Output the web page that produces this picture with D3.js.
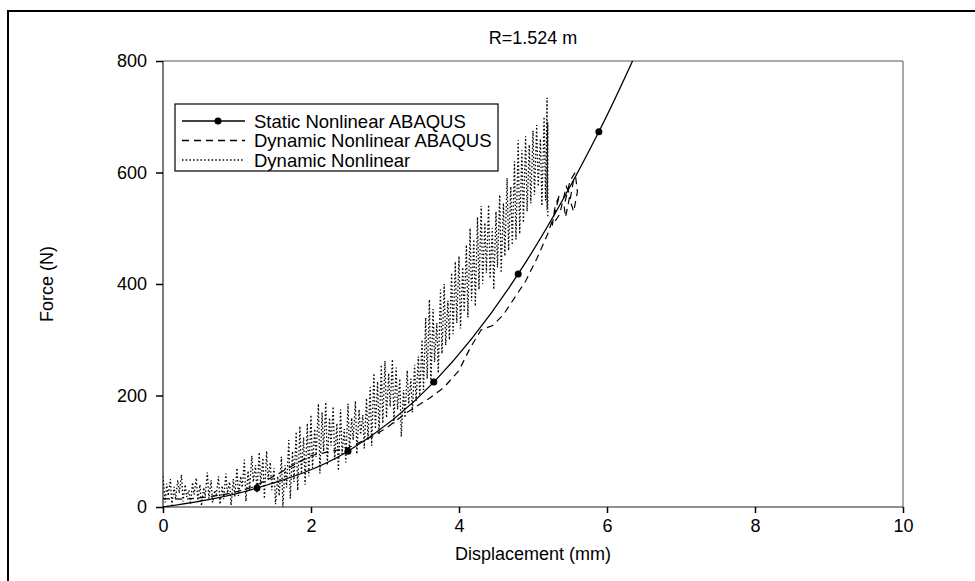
<!DOCTYPE html>
<html>
<head>
<meta charset="utf-8">
<script src="https://cdn.jsdelivr.net/npm/d3@7"></script>
<style>
  body { margin: 0; background: #fff; }
  text { font-family: "Liberation Sans", Arial, sans-serif; fill: #000; }
</style>
</head>
<body>
<div id="chart"></div>
<script>
// Static Nonlinear ABAQUS (markers at each point)
const staticDisp  = [0, 1.27, 2.50, 3.66, 4.80, 5.89, 6.95];
const staticForce = [0, 34, 100, 224, 418, 673, 980];

// Dynamic Nonlinear ABAQUS
const abaqusDisp  = [0, 0.3, 0.6, 0.9, 1.2, 1.5, 1.8, 2.0, 2.2, 2.5, 2.8, 3.0, 3.3, 3.6, 3.8, 4.0, 4.15, 4.3, 4.45, 4.6, 4.75, 4.9, 5.05, 5.2, 5.3, 5.36, 5.3, 5.26, 5.36, 5.45, 5.5, 5.44, 5.42, 5.5, 5.57, 5.6, 5.55, 5.5, 5.56];
const abaqusForce = [15, 14, 18, 24, 35, 55, 78, 92, 98, 106, 125, 140, 170, 195, 215, 245, 285, 318, 325, 345, 375, 405, 445, 490, 530, 560, 540, 505, 525, 575, 560, 520, 540, 585, 600, 565, 530, 550, 595];

// Dynamic Nonlinear
const dynDisp = [
  0.00, 0.03, 0.05, 0.07, 0.10, 0.12, 0.15, 0.17, 0.20, 0.22, 0.25, 0.27, 0.30, 0.32, 0.35, 0.37, 0.40, 0.42, 0.45, 0.47,
  0.50, 0.52, 0.55, 0.57, 0.60, 0.62, 0.65, 0.67, 0.70, 0.72, 0.75, 0.77, 0.80, 0.82, 0.85, 0.87, 0.90, 0.92, 0.95, 0.97,
  1.00, 1.02, 1.05, 1.07, 1.10, 1.12, 1.15, 1.17, 1.20, 1.22, 1.25, 1.27, 1.30, 1.32, 1.35, 1.37, 1.40, 1.42, 1.45, 1.47,
  1.50, 1.52, 1.55, 1.57, 1.60, 1.62, 1.65, 1.67, 1.70, 1.72, 1.75, 1.77, 1.80, 1.82, 1.85, 1.87, 1.90, 1.92, 1.95, 1.97,
  2.00, 2.02, 2.05, 2.07, 2.10, 2.12, 2.15, 2.17, 2.20, 2.22, 2.25, 2.27, 2.30, 2.32, 2.35, 2.37, 2.40, 2.42, 2.45, 2.47,
  2.50, 2.52, 2.55, 2.57, 2.60, 2.62, 2.65, 2.67, 2.70, 2.72, 2.75, 2.77, 2.80, 2.82, 2.85, 2.87, 2.90, 2.92, 2.95, 2.97,
  3.00, 3.02, 3.05, 3.07, 3.10, 3.12, 3.15, 3.17, 3.20, 3.22, 3.25, 3.27, 3.30, 3.32, 3.35, 3.37, 3.40, 3.42, 3.45, 3.47,
  3.50, 3.52, 3.55, 3.57, 3.60, 3.62, 3.65, 3.67, 3.70, 3.72, 3.75, 3.77, 3.80, 3.82, 3.85, 3.87, 3.90, 3.92, 3.95, 3.97,
  4.00, 4.02, 4.05, 4.07, 4.10, 4.12, 4.15, 4.17, 4.20, 4.22, 4.25, 4.27, 4.30, 4.32, 4.35, 4.37,
  4.40, 4.42, 4.45, 4.47, 4.50, 4.52, 4.55, 4.57, 4.60, 4.62, 4.65, 4.67, 4.70, 4.72, 4.75, 4.77,
  4.80, 4.82, 4.85, 4.87, 4.90, 4.92, 4.95, 4.97, 5.00, 5.02, 5.05, 5.07, 5.10, 5.12, 5.15, 5.17,
  5.19, 5.19, 5.20, 5.20];
const dynForce = [
  55, 8, 42, 20, 50, 3, 36, 15, 48, 25, 58, 10, 40, 18, 30, 5, 44, 22, 52, 12,
  40, 2, 35, 20, 62, 15, 48, 8, 30, 22, 55, 5, 38, 14, 60, 25, 45, 3, 50, 18,
  70, 20, 55, 35, 85, 10, 65, 30, 92, 45, 75, 25, 98, 40, 88, 15, 100, 50, 80, 30,
  70, 5, 55, 20, 90, 0, 75, 35, 120, 15, 100, 45, 135, 30, 145, 60, 125, 40, 150, 55,
  165, 70, 140, 90, 185, 60, 170, 100, 188, 75, 160, 110, 180, 85, 150, 65, 175, 95, 140, 80,
  185, 100, 160, 120, 190, 95, 175, 130, 165, 105, 195, 120, 215, 110, 240, 140, 225, 130, 255, 150,
  262, 160, 240, 180, 265, 150, 250, 175, 230, 126, 210, 160, 245, 185, 230, 170, 255, 190, 270, 200,
  300, 210, 340, 230, 372, 220, 355, 260, 330, 240, 390, 275, 400, 290, 370, 300, 420, 310, 440, 330,
  450, 320, 430, 350, 470, 340, 500, 370, 480, 360, 520, 390, 540, 400, 510, 420,
  542, 410, 500, 390, 530, 430, 560, 420, 545, 450, 590, 460, 575, 470, 620, 480,
  658, 490, 640, 510, 665, 530, 650, 545, 675, 560, 685, 575, 660, 540, 700, 550,
  734, 533, 690, 520];

const xTicks = [0, 2, 4, 6, 8, 10];
const yTicks = [0, 200, 400, 600, 800];

const width = 975, height = 581;
const svg = d3.select("#chart").append("svg")
  .attr("width", width)
  .attr("height", height);

// outer frame (only left and top visible)
svg.append("rect")
  .attr("x", 8).attr("y", 11)
  .attr("width", 1000).attr("height", 600)
  .attr("fill", "none").attr("stroke", "#000").attr("stroke-width", 2);

const x = d3.scaleLinear().domain([0, 10]).range([163, 903]);
const y = d3.scaleLinear().domain([0, 800]).range([507, 61]);

// plot box top/right
svg.append("path")
  .attr("d", `M${x(0)},${y(800)}H${x(10)}V${y(0)}`)
  .attr("fill", "none").attr("stroke", "#555").attr("stroke-width", 1);

svg.append("clipPath").attr("id", "clip")
  .append("rect")
  .attr("x", x(0)).attr("y", y(800))
  .attr("width", x(10) - x(0)).attr("height", y(0) - y(800));

// axes
const xAxis = svg.append("g")
  .attr("transform", `translate(0,${y(0)})`)
  .call(d3.axisBottom(x).tickValues(xTicks).tickSize(6).tickPadding(6).tickFormat(d3.format("d")));
const yAxis = svg.append("g")
  .attr("transform", `translate(${x(0)},0)`)
  .call(d3.axisLeft(y).tickValues(yTicks).tickSize(7).tickPadding(9).tickFormat(d3.format("d")));
[xAxis, yAxis].forEach(a => {
  a.selectAll("text").style("font-size", "18px").style("font-family", "Liberation Sans, Arial, sans-serif");
  a.select(".domain").attr("stroke", "#222").attr("stroke-width", 1.2);
  a.selectAll(".tick line").attr("stroke", "#000").attr("stroke-width", 1.5);
});
yAxis.selectAll(".domain").attr("d", `M0,${y(0)}V${y(800)}`);
xAxis.selectAll(".domain").attr("d", `M${x(0)},0H${x(10)}`);

const plot = svg.append("g").attr("clip-path", "url(#clip)");

// dynamic nonlinear (dotted)
const dyn = dynDisp.map((d, i) => [d, dynForce[i]]);
plot.append("path")
  .datum(dyn)
  .attr("fill", "none")
  .attr("stroke", "#000")
  .attr("stroke-width", 1.3)
  .attr("stroke-dasharray", "1.5,2.2")
  .attr("d", d3.line().x(d => x(d[0])).y(d => y(d[1])));

// dynamic nonlinear ABAQUS (dashed)
const aba = abaqusDisp.map((d, i) => [d, abaqusForce[i]]);
plot.append("path")
  .datum(aba)
  .attr("fill", "none")
  .attr("stroke", "#000")
  .attr("stroke-width", 1.2)
  .attr("stroke-dasharray", "7,5")
  .attr("d", d3.line().x(d => x(d[0])).y(d => y(d[1])));

// static nonlinear ABAQUS (solid + markers)
const stat = staticDisp.map((d, i) => [d, staticForce[i]]);
plot.append("path")
  .datum(stat)
  .attr("fill", "none")
  .attr("stroke", "#000")
  .attr("stroke-width", 1.3)
  .attr("d", d3.line().curve(d3.curveMonotoneX).x(d => x(d[0])).y(d => y(d[1])));
plot.selectAll("circle.stat")
  .data(stat.slice(1, 6))
  .join("circle")
  .attr("class", "stat")
  .attr("cx", d => x(d[0]))
  .attr("cy", d => y(d[1]))
  .attr("r", 3.5)
  .attr("fill", "#000");

// title and axis labels
svg.append("text")
  .attr("x", (x(0) + x(10)) / 2).attr("y", 44)
  .attr("text-anchor", "middle").style("font-size", "18px")
  .text("R=1.524 m");
svg.append("text")
  .attr("x", (x(0) + x(10)) / 2).attr("y", 560)
  .attr("text-anchor", "middle").style("font-size", "18px")
  .text("Displacement (mm)");
svg.append("text")
  .attr("transform", `translate(53,${(y(0) + y(800)) / 2}) rotate(-90)`)
  .attr("text-anchor", "middle").style("font-size", "18px")
  .text("Force (N)");

// legend
const legendNames = ["Static Nonlinear ABAQUS", "Dynamic Nonlinear ABAQUS", "Dynamic Nonlinear"];
const legendDash = [null, "7,5", "1.5,2.2"];
const lg = svg.append("g");
lg.append("rect")
  .attr("x", 175).attr("y", 104).attr("width", 323).attr("height", 67)
  .attr("fill", "#fff").attr("stroke", "#000").attr("stroke-width", 1.2);
legendNames.forEach((name, i) => {
  const ly = 121 + i * 19.5;
  lg.append("line")
    .attr("x1", 182).attr("x2", 245).attr("y1", ly).attr("y2", ly)
    .attr("stroke", "#000").attr("stroke-width", 1.3)
    .attr("stroke-dasharray", legendDash[i]);
  if (i === 0) lg.append("circle").attr("cx", 218).attr("cy", ly).attr("r", 3.5).attr("fill", "#000");
  lg.append("text")
    .attr("x", 254).attr("y", ly + 6.5)
    .style("font-size", "18.5px")
    .text(name);
});
</script>
</body>
</html>
